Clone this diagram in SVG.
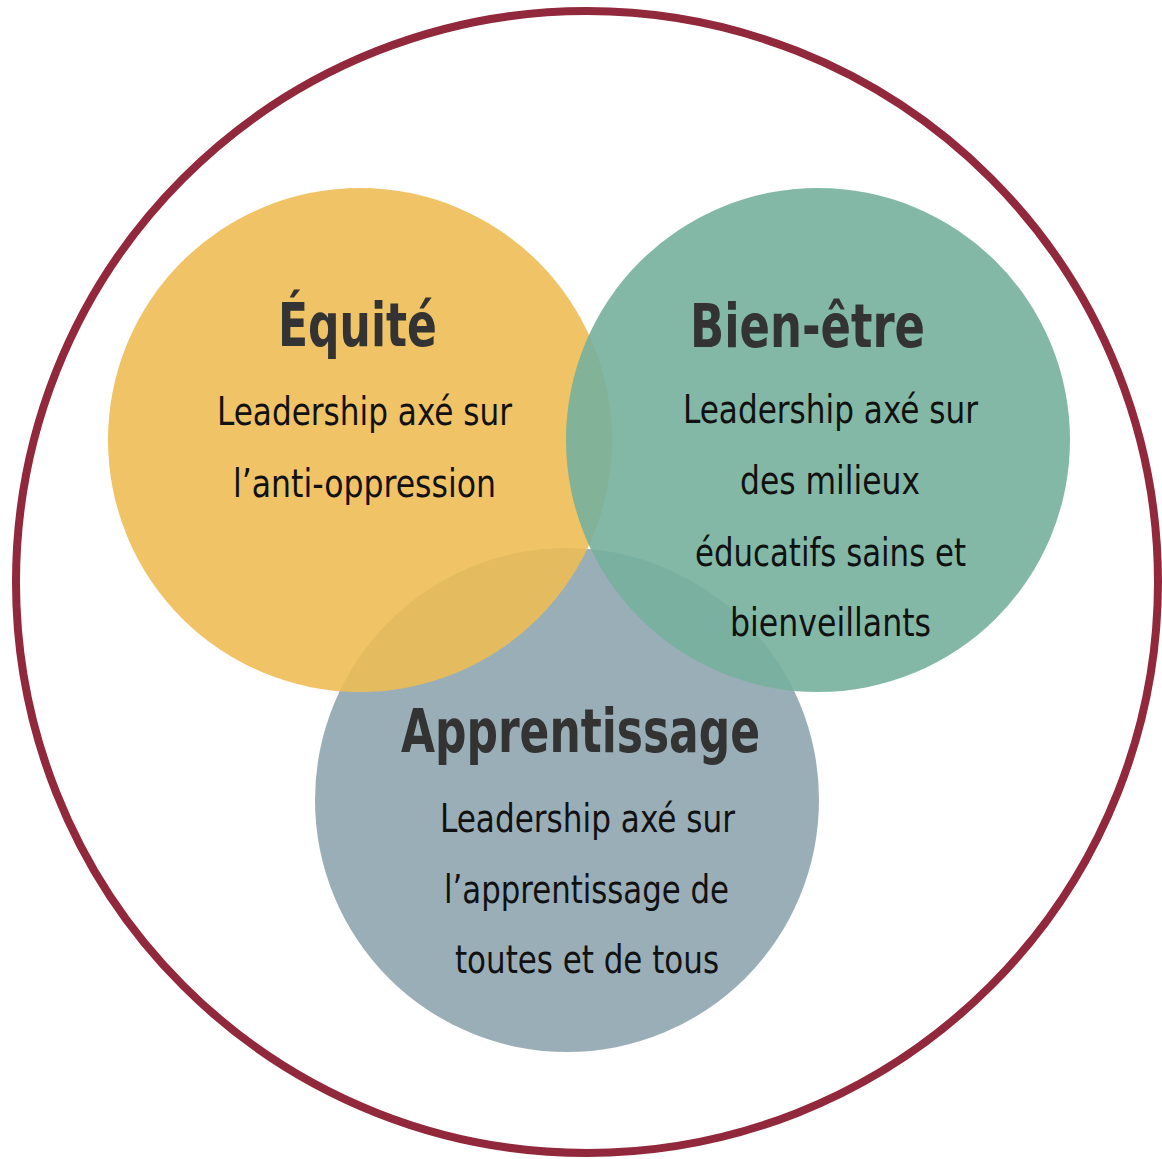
<svg xmlns="http://www.w3.org/2000/svg" width="1162" height="1159" viewBox="0 0 1162 1159">
<style>
.t{font-family:"Liberation Sans Narrow","DejaVu Sans Condensed","Liberation Sans",sans-serif;font-weight:bold;font-size:60px;fill:#333333;text-anchor:middle}
.b{font-family:"Liberation Sans Narrow","DejaVu Sans Condensed","Liberation Sans",sans-serif;font-size:39px;fill:#111111;text-anchor:middle}
</style>
<rect width="1162" height="1159" fill="#ffffff"/>
<circle id="outer" cx="587" cy="582" r="571" fill="none" stroke="#92283B" stroke-width="8"/>
<g id="apprentissage">
<circle cx="567" cy="800" r="252" fill="#8FA5B0" fill-opacity="0.9"/>
<text class="t" x="580.5" y="752" textLength="359" lengthAdjust="spacingAndGlyphs">Apprentissage</text>
<text class="b" x="587.5" y="832" textLength="295" lengthAdjust="spacingAndGlyphs">Leadership axé sur</text>
<text class="b" x="586.5" y="903" textLength="285" lengthAdjust="spacingAndGlyphs">l’apprentissage de</text>
<text class="b" x="587" y="973" textLength="264" lengthAdjust="spacingAndGlyphs">toutes et de tous</text>
</g>
<g id="equite">
<circle cx="360" cy="440" r="252" fill="#EDBC55" fill-opacity="0.9"/>
<text class="t" x="357.5" y="346" textLength="159" lengthAdjust="spacingAndGlyphs">Équité</text>
<text class="b" x="364.5" y="425" textLength="295" lengthAdjust="spacingAndGlyphs">Leadership axé sur</text>
<text class="b" x="364.5" y="497" textLength="263" lengthAdjust="spacingAndGlyphs">l’anti-oppression</text>
</g>
<g id="bienetre">
<circle cx="818" cy="440" r="252" fill="#76B09C" fill-opacity="0.9"/>
<text class="t" x="807.5" y="347" textLength="235" lengthAdjust="spacingAndGlyphs">Bien-être</text>
<text class="b" x="830.5" y="423" textLength="295" lengthAdjust="spacingAndGlyphs">Leadership axé sur</text>
<text class="b" x="830" y="494" textLength="180" lengthAdjust="spacingAndGlyphs">des milieux</text>
<text class="b" x="830.5" y="566" textLength="271" lengthAdjust="spacingAndGlyphs">éducatifs sains et</text>
<text class="b" x="830.5" y="636" textLength="201" lengthAdjust="spacingAndGlyphs">bienveillants</text>
</g>
<g id="connectors"/>
</svg>
